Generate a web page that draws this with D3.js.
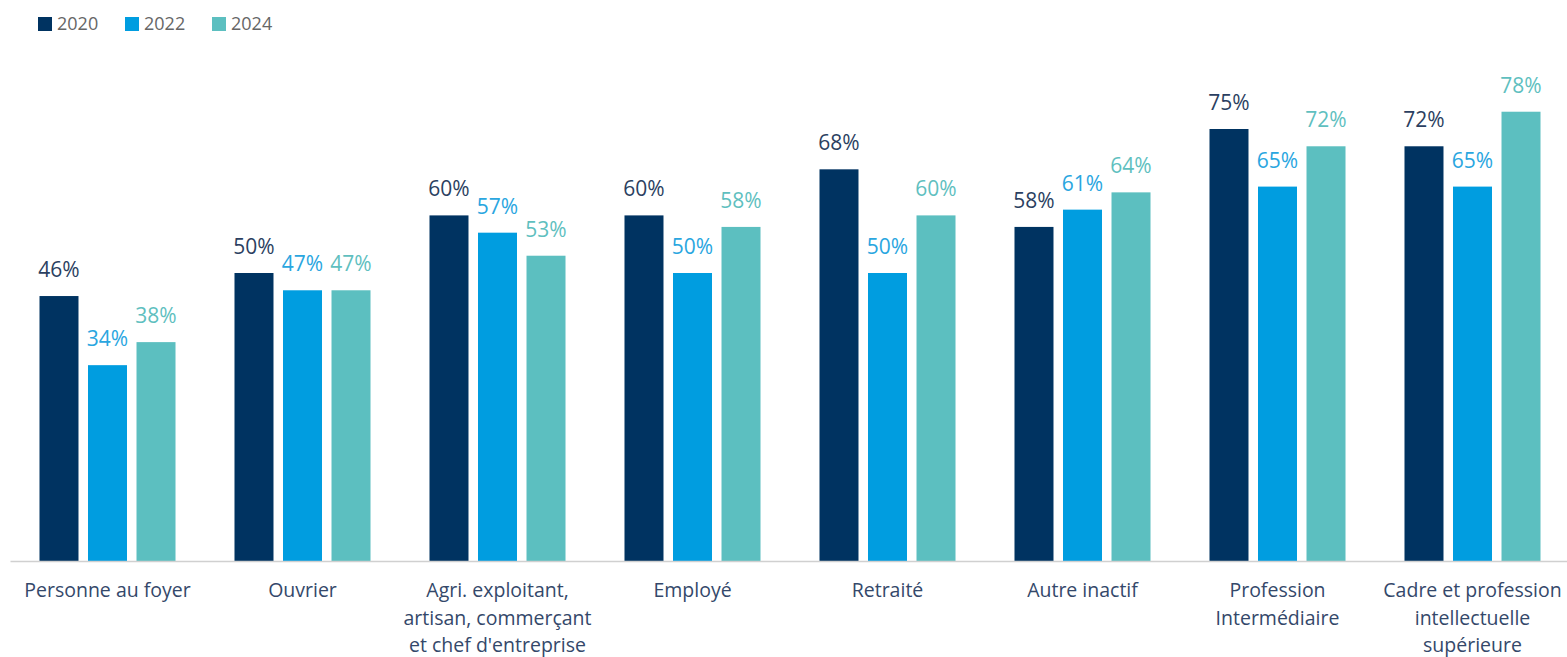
<!DOCTYPE html>
<html>
<head>
<meta charset="utf-8">
<script src="https://cdn.jsdelivr.net/npm/d3@7"></script>
<style>
  body { margin: 0; background: #fff; }
  text { font-family: "Open Sans", "Noto Sans", sans-serif; }
</style>
</head>
<body>
<div id="chart"></div>
<script>
// data
var categories = [
  "Personne au foyer",
  "Ouvrier",
  "Agri. exploitant,\nartisan, commerçant\net chef d'entreprise",
  "Employé",
  "Retraité",
  "Autre inactif",
  "Profession\nIntermédiaire",
  "Cadre et profession\nintellectuelle\nsupérieure"
];
var series = ["2020", "2022", "2024"];
var values2020 = [46, 50, 60, 60, 68, 58, 75, 72];
var values2022 = [34, 47, 57, 50, 50, 61, 65, 65];
var values2024 = [38, 47, 53, 58, 60, 64, 72, 78];

var colors = ["#003361", "#009de0", "#5cbfc0"];
var labelColors = ["#2b3f61", "#2aa6df", "#5fbfbf"];

var svgWidth = 1567;
var svgHeight = 657;
var baseline = 561;

var svg = d3
  .select("#chart")
  .append("svg")
  .attr("width", svgWidth)
  .attr("height", svgHeight);

var rows = categories.map((c, i) => ({
  cat: c,
  vals: [values2020[i], values2022[i], values2024[i]]
}));

// scales
var x0 = d3.scaleBand().domain(categories).range([10, 1570]).padding(0);
var x1 = d3
  .scaleBand()
  .domain(series)
  .range([0, x0.bandwidth()])
  .paddingInner(0.196)
  .paddingOuter(0.608);
var y = d3.scaleLinear().domain([0, 100]).range([baseline, baseline - 576]);
var color = d3.scaleOrdinal().domain(series).range(colors);
var labelColor = d3.scaleOrdinal().domain(series).range(labelColors);

// legend
var legend = svg
  .selectAll(".legend")
  .data(series)
  .enter()
  .append("g")
  .attr("transform", (d, i) => `translate(${38 + i * 87}, 17)`);
legend
  .append("rect")
  .attr("width", 14)
  .attr("height", 14)
  .attr("fill", d => color(d));
legend
  .append("text")
  .attr("x", 19)
  .attr("y", 13)
  .attr("font-size", "18px")
  .attr("fill", "#666")
  .text(d => d);

// bars
var groups = svg
  .selectAll(".group")
  .data(rows)
  .enter()
  .append("g")
  .attr("transform", d => `translate(${x0(d.cat)},0)`);

var cells = groups
  .selectAll(".cell")
  .data(d => d.vals.map((v, j) => ({ key: series[j], value: v })))
  .enter();

cells
  .append("rect")
  .attr("x", d => x1(d.key))
  .attr("y", d => y(d.value))
  .attr("width", x1.bandwidth())
  .attr("height", d => baseline - y(d.value))
  .attr("fill", d => color(d.key));

cells
  .append("text")
  .attr("x", d => x1(d.key) + x1.bandwidth() / 2)
  .attr("y", d => y(d.value) - 19)
  .attr("text-anchor", "middle")
  .attr("font-size", "21px")
  .attr("fill", d => labelColor(d.key))
  .text(d => d.value + "%");

// axis
var xAxis = d3.axisBottom(x0).tickSize(0).tickPadding(0).tickFormat("");
var axisG = svg
  .append("g")
  .attr("transform", `translate(0,${baseline})`)
  .call(xAxis);
axisG.select(".domain").attr("stroke", "#d0d0d0").attr("stroke-width", 1.5);

// category labels (multi-line)
axisG.selectAll(".tick").each(function(d) {
  var t = d3
    .select(this)
    .append("text")
    .attr("text-anchor", "middle")
    .attr("font-size", "19.5px")
    .attr("fill", "#34486a");
  d.split("\n").forEach((line, k) => {
    t.append("tspan")
      .attr("x", 0)
      .attr("y", 36 + k * 27.5)
      .text(line);
  });
});
</script>
</body>
</html>
